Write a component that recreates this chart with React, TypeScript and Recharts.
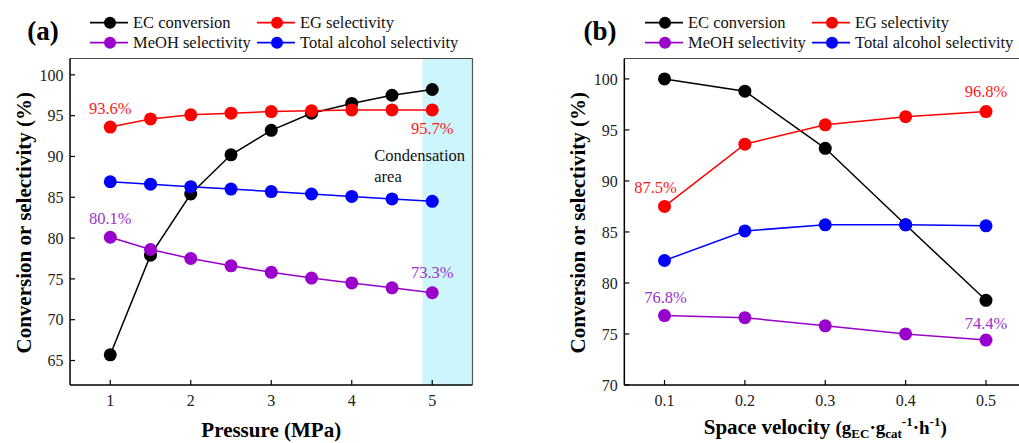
import React from 'react';
import { LineChart, Line, XAxis, YAxis, ReferenceArea, ReferenceDot } from 'recharts';

const FONT = "'Liberation Serif', 'Times New Roman', Times, serif";

// ---------- Panel (a): pressure ----------
const pressureMPa = [1, 1.5, 2, 2.5, 3, 3.5, 4, 4.5, 5];
const ecConversionA = [65.7, 77.9, 85.4, 90.2, 93.2, 95.3, 96.5, 97.5, 98.2];
const egSelectivityA = [93.6, 94.6, 95.1, 95.3, 95.5, 95.6, 95.7, 95.7, 95.7];
const meohSelectivityA = [80.1, 78.6, 77.5, 76.6, 75.8, 75.1, 74.5, 73.9, 73.3];
const totalAlcoholSelectivityA = [86.9, 86.6, 86.3, 86.0, 85.7, 85.4, 85.1, 84.8, 84.5];

const pressureTicks = [1, 2, 3, 4, 5];
const pressureMinorTicks = [1.5, 2.5, 3.5, 4.5];
const yTicksA = [65, 70, 75, 80, 85, 90, 95, 100];
const yMinorTicksA = [67.5, 72.5, 77.5, 82.5, 87.5, 92.5, 97.5];
const condensationRange = [4.88, 5.5];

// ---------- Panel (b): space velocity ----------
const spaceVelocity = [0.1, 0.2, 0.3, 0.4, 0.5];
const ecConversionB = [100, 98.8, 93.2, 85.7, 78.3];
const egSelectivityB = [87.5, 93.6, 95.5, 96.3, 96.8];
const meohSelectivityB = [76.8, 76.6, 75.8, 75.0, 74.4];
const totalAlcoholSelectivityB = [82.2, 85.1, 85.7, 85.7, 85.6];

const svTicks = [0.1, 0.2, 0.3, 0.4, 0.5];
const svMinorTicks = [0.15, 0.25, 0.35, 0.45];
const yTicksB = [70, 75, 80, 85, 90, 95, 100];
const yMinorTicksB = [72.5, 77.5, 82.5, 87.5, 92.5, 97.5];

// ---------- Series ----------
const seriesKeys = ['ec', 'eg', 'meoh', 'total'];
const seriesNames = ['EC conversion', 'EG selectivity', 'MeOH selectivity', 'Total alcohol selectivity'];
const seriesColors = ['#000000', '#ff0000', '#9900cc', '#0000ff'];
const annotationColors: Record<string, string> = { eg: '#ff1a1a', meoh: '#9933cc' };

const dataA = pressureMPa.map((x, i) => ({
  x,
  ec: ecConversionA[i],
  eg: egSelectivityA[i],
  meoh: meohSelectivityA[i],
  total: totalAlcoholSelectivityA[i],
}));

const dataB = spaceVelocity.map((x, i) => ({
  x,
  ec: ecConversionB[i],
  eg: egSelectivityB[i],
  meoh: meohSelectivityB[i],
  total: totalAlcoholSelectivityB[i],
}));

// value annotations: which point, and a pixel offset for the text
const annotationsA = [
  { key: 'eg', idx: 0, dx: 0, dy: -19 },
  { key: 'meoh', idx: 0, dx: 0, dy: -19 },
  { key: 'eg', idx: 8, dx: 0, dy: 19 },
  { key: 'meoh', idx: 8, dx: 0, dy: -20 },
];
const annotationsB = [
  { key: 'eg', idx: 0, dx: -9, dy: -19 },
  { key: 'meoh', idx: 0, dx: 1, dy: -18 },
  { key: 'eg', idx: 4, dx: 0, dy: -20 },
  { key: 'meoh', idx: 4, dx: 0, dy: -17 },
];

const tickStyle = { fontSize: 16, fill: '#222', fontFamily: FONT };
const THIN = 0.01;

function YLabel(props: any) {
  const vb = props.viewBox || {};
  const cx = vb.x + (vb.width || 0) - 46;
  const cy = vb.y + vb.height / 2 + 1;
  return (
    <text
      x={cx}
      y={cy}
      transform={`rotate(-90, ${cx}, ${cy})`}
      textAnchor="middle"
      dominantBaseline="central"
      style={{ fontFamily: FONT }}
      fontWeight="bold"
      fontSize={21}
      fill="#000"
    >
      Conversion or selectivity (%)
    </text>
  );
}

function XLabelA(props: any) {
  const vb = props.viewBox || {};
  return (
    <text
      x={vb.x + vb.width / 2}
      y={vb.y + 52}
      textAnchor="middle"
      style={{ fontFamily: FONT }}
      fontWeight="bold"
      fontSize={21}
      fill="#000"
    >
      Pressure (MPa)
    </text>
  );
}

function XLabelB(props: any) {
  const vb = props.viewBox || {};
  return (
    <text
      x={vb.x + vb.width / 2}
      y={vb.y + 49}
      textAnchor="middle"
      style={{ fontFamily: FONT }}
      fontWeight="bold"
      fontSize={21}
      fill="#000"
    >
      <tspan>Space velocity </tspan>
      <tspan fontSize={19}>(g</tspan>
      <tspan fontSize={13} dy={4}>EC</tspan>
      <tspan fontSize={19} dy={-4}>·g</tspan>
      <tspan fontSize={13} dy={4}>cat</tspan>
      <tspan fontSize={13} dy={-12}>-1</tspan>
      <tspan fontSize={19} dy={8}>·h</tspan>
      <tspan fontSize={13} dy={-8}>-1</tspan>
      <tspan fontSize={19} dy={8}>)</tspan>
    </text>
  );
}

function makeAnnotationLabel(text: string, color: string, dx: number, dy: number) {
  return (props: any) => {
    const vb = props.viewBox || {};
    return (
      <text
        x={vb.x + (vb.width || 0) / 2 + dx}
        y={vb.y + (vb.height || 0) / 2 + dy}
        textAnchor="middle"
        dominantBaseline="central"
        style={{ fontFamily: FONT }}
        fontSize={16.5}
        fill={color}
      >
        {text}
      </text>
    );
  };
}

function CondensationLabel(props: any) {
  const vb = props.viewBox || {};
  const x = vb.x + (vb.width || 0) / 2;
  const y = vb.y + (vb.height || 0) / 2;
  return (
    <text x={x} y={y} dominantBaseline="central" style={{ fontFamily: FONT }} fontSize={16.5} fill="#111">
      <tspan x={x}>Condensation</tspan>
      <tspan x={x} dy={21}>area</tspan>
    </text>
  );
}

function Axes({ xDomain, yDomain, xTicks, xMinor, yTicks, yMinor, xLabel }: any) {
  return [
    <XAxis key="xm" xAxisId="xm" type="number" domain={xDomain} allowDataOverflow ticks={xMinor} interval={0}
      height={THIN} tick={false} tickSize={-3} axisLine={false} tickLine={{ stroke: '#000', strokeWidth: 1.2 }} />,
    <XAxis key="x" xAxisId="x" dataKey="x" type="number" domain={xDomain} allowDataOverflow ticks={xTicks} interval={0}
      height={THIN} tickSize={-5} tickMargin={15} tick={tickStyle}
      axisLine={{ stroke: '#000', strokeWidth: 1.5 }} tickLine={{ stroke: '#000', strokeWidth: 1.2 }}
      label={xLabel} />,
    <XAxis key="xt" xAxisId="xt" orientation="top" type="number" domain={xDomain} allowDataOverflow
      height={THIN} tick={false} tickLine={false} axisLine={{ stroke: '#444', strokeWidth: 1.2 }} />,
    <YAxis key="ym" yAxisId="ym" type="number" domain={yDomain} allowDataOverflow ticks={yMinor} interval={0}
      width={THIN} tick={false} tickSize={-3} axisLine={false} tickLine={{ stroke: '#000', strokeWidth: 1.2 }} />,
    <YAxis key="y" yAxisId="y" type="number" domain={yDomain} allowDataOverflow ticks={yTicks} interval={0}
      width={THIN} tickSize={-5} tickMargin={11.5} tick={tickStyle}
      axisLine={{ stroke: '#000', strokeWidth: 1.5 }} tickLine={{ stroke: '#000', strokeWidth: 1.2 }}
      label={YLabel} />,
    <YAxis key="yr" yAxisId="yr" orientation="right" type="number" domain={yDomain} allowDataOverflow
      width={THIN} tick={false} tickLine={false} axisLine={{ stroke: '#555', strokeWidth: 1.2 }} />,
  ];
}

function seriesLines() {
  return seriesKeys.map((k, i) => (
    <Line
      key={k}
      xAxisId="x"
      yAxisId="y"
      type="linear"
      dataKey={k}
      name={seriesNames[i]}
      stroke={seriesColors[i]}
      strokeWidth={1.5}
      dot={{ r: 6.5, fill: seriesColors[i], stroke: seriesColors[i], strokeWidth: 0 }}
      activeDot={false}
      isAnimationActive={false}
    />
  ));
}

function annotationDots(data: any[], list: any[]) {
  return list.map((a, i) => {
    const row = data[a.idx];
    const v = row[a.key] as number;
    return (
      <ReferenceDot
        key={'ann' + i}
        xAxisId="x"
        yAxisId="y"
        x={row.x}
        y={v}
        r={0}
        fill="none"
        stroke="none"
        ifOverflow="visible"
        label={makeAnnotationLabel(`${v.toFixed(1)}%`, annotationColors[a.key], a.dx, a.dy)}
      />
    );
  });
}

function Legend({ x0 }: { x0: number }) {
  return (
    <g>
      {seriesNames.map((name, i) => {
        const x = x0 + (i % 2) * 167;
        const y = 22.7 + Math.floor(i / 2) * 20;
        return (
          <g key={name}>
            <line x1={x} y1={y} x2={x + 38} y2={y} stroke={seriesColors[i]} strokeWidth={1.8} />
            <circle cx={x + 20} cy={y} r={6} fill={seriesColors[i]} />
            <text x={x + 43} y={y} dominantBaseline="central" style={{ fontFamily: FONT }} fontSize={16.5} fill="#111">
              {name}
            </text>
          </g>
        );
      })}
    </g>
  );
}

export default function App() {
  return (
    <div
      style={{
        position: 'absolute',
        left: 0,
        top: 0,
        width: 1019,
        height: 443,
        background: '#fff',
        overflow: 'hidden',
        fontFamily: FONT,
      }}
    >
      <div style={{ position: 'absolute', left: 0, top: 0 }}>
        <LineChart width={510} height={443} data={dataA} margin={{ top: 58.5, right: 37.5, bottom: 58, left: 70 }}
          style={{ fontFamily: FONT }}>
          {Axes({
            xDomain: [0.5, 5.5],
            yDomain: [62, 102],
            xTicks: pressureTicks,
            xMinor: pressureMinorTicks,
            yTicks: yTicksA,
            yMinor: yMinorTicksA,
            xLabel: XLabelA,
          })}
          <ReferenceArea
            xAxisId="x"
            yAxisId="y"
            x1={condensationRange[0]}
            x2={condensationRange[1]}
            y1={62}
            y2={102}
            fill="#cdf5fc"
            fillOpacity={1}
            stroke="none"
            ifOverflow="visible"
          />
          {seriesLines()}
          {annotationDots(dataA, annotationsA)}
          <ReferenceDot
            xAxisId="x"
            yAxisId="y"
            x={4.28}
            y={90.2}
            r={0}
            fill="none"
            stroke="none"
            ifOverflow="visible"
            label={CondensationLabel}
          />
        </LineChart>
      </div>
      <div style={{ position: 'absolute', left: 510, top: 0 }}>
        <LineChart width={520} height={443} data={dataB} margin={{ top: 58.5, right: 3.8, bottom: 58, left: 114.3 }}
          style={{ fontFamily: FONT }}>
          {Axes({
            xDomain: [0.05, 0.55],
            yDomain: [70, 102],
            xTicks: svTicks,
            xMinor: svMinorTicks,
            yTicks: yTicksB,
            yMinor: yMinorTicksB,
            xLabel: XLabelB,
          })}
          {seriesLines()}
          {annotationDots(dataB, annotationsB)}
        </LineChart>
      </div>
      <svg
        width={1019}
        height={60}
        style={{ position: 'absolute', left: 0, top: 0, pointerEvents: 'none', fontFamily: FONT }}
      >
        <text x={43} y={31} textAnchor="middle" dominantBaseline="central" fontWeight="bold" fontSize={27} fill="#000">
          (a)
        </text>
        <text x={600} y={31} textAnchor="middle" dominantBaseline="central" fontWeight="bold" fontSize={27} fill="#000">
          (b)
        </text>
        <Legend x0={90} />
        <Legend x0={645} />
      </svg>
    </div>
  );
}
